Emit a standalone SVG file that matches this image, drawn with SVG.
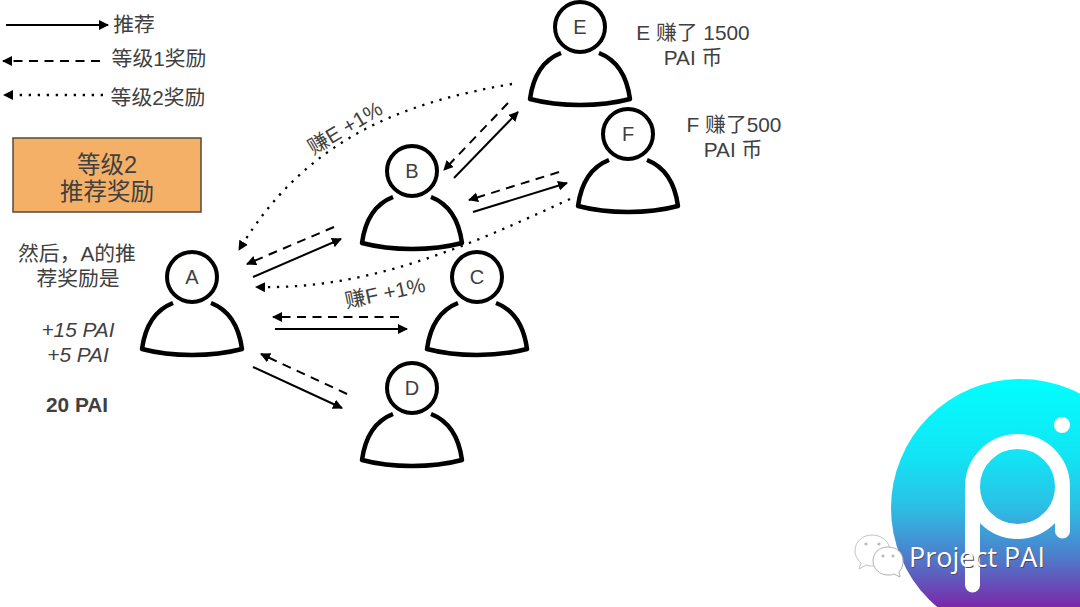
<svg xmlns="http://www.w3.org/2000/svg" width="1080" height="607" viewBox="0 0 1080 607">
<style>
text{font-family:"Liberation Sans","Noto Sans CJK SC",sans-serif;fill:#404040;text-anchor:middle}
.l{font-size:23.5px}
.s{font-size:20.8px}
.h{fill:#fff;stroke:#000;stroke-width:4}
.b{fill:none;stroke:#000;stroke-width:4.5;stroke-linejoin:round;stroke-linecap:butt}
.n{font-size:20px}
.c{fill:none;stroke:#000;stroke-width:2}
.sol{marker-end:url(#a)}
.das{stroke-dasharray:9 6.5;marker-end:url(#a)}
.dot{stroke-width:2.3;stroke-dasharray:2.3 6.7;marker-end:url(#a)}
.w{fill:none;stroke:#fff;stroke-linecap:round}
</style>
<defs>
<marker id="a" markerUnits="userSpaceOnUse" markerWidth="12" markerHeight="12" refX="9" refY="5" orient="auto"><path d="M0 0L10 5L0 10Z" fill="#000"/></marker>
<g id="p">
<circle class="h" r="25"/>
<path class="b" d="M-19 26C-37 33-47 50-50 72C-20 80 20 80 50 72C47 50 37 33 19 26"/>
</g>
<linearGradient id="g" x1="0" y1="0" x2="0" y2="1"><stop offset="0" stop-color="#00ffff"/><stop offset="0.3" stop-color="#12e4f4"/><stop offset="0.5" stop-color="#2cbee4"/><stop offset="0.68" stop-color="#4c80cc"/><stop offset="0.88" stop-color="#7a2aaa"/></linearGradient>
</defs>
<g id="logo">
<circle cx="1020" cy="508" r="129" fill="url(#g)"/>
<circle class="w" cx="1017.5" cy="486.5" r="45" stroke-width="15"/>
<path class="w" stroke-width="15" d="M972.5 487V585M1062.5 487V531"/>
<circle cx="1062" cy="425" r="8" fill="#fff"/>
</g>
<g id="connectors">
<path class="c sol" d="M6 25H108"/>
<path class="c das" d="M100 61H3"/>
<path class="c dot" d="M103 95H4"/>
<path class="c sol" d="M253 277L341 239"/>
<path class="c das" d="M334 227L247 264"/>
<path class="c sol" d="M454 178L518 112"/>
<path class="c das" d="M508 103L444 170"/>
<path class="c sol" d="M473 212L567 183"/>
<path class="c das" d="M559 172L469 200"/>
<path class="c das" d="M399 317H273"/>
<path class="c sol" d="M275 329H407"/>
<path class="c sol" d="M253 367L342 408"/>
<path class="c das" d="M347 394L261 354"/>
<path class="c dot" d="M512 84C400 103 305 140 239 250"/>
<path class="c dot" d="M570 199C470 245 370 290 256 287"/>
</g>
<g id="legend">
<text class="s" x="134" y="32">推荐</text>
<text class="s" x="159" y="66">等级1奖励</text>
<text class="s" x="158" y="105">等级2奖励</text>
</g>
<g id="title">
<rect x="13" y="138" width="188" height="74" fill="#f4b066" stroke="#54483c" stroke-width="1.5"/>
<text class="l" x="107" y="173">等级2</text>
<text class="l" x="107" y="200">推荐奖励</text>
</g>
<g id="A"><use href="#p" x="192" y="277"/><text class="n" x="192" y="284">A</text></g>
<g id="B"><use href="#p" x="412" y="171"/><text class="n" x="412" y="178">B</text></g>
<g id="C"><use href="#p" x="477" y="277"/><text class="n" x="477" y="284">C</text></g>
<g id="D"><use href="#p" x="412" y="388"/><text class="n" x="412" y="395">D</text></g>
<g id="E"><use href="#p" x="580" y="27"/><text class="n" x="580" y="34">E</text></g>
<g id="F"><use href="#p" x="628" y="134"/><text class="n" x="628" y="141">F</text></g>
<g id="notes">
<text class="s" x="693" y="40">E 赚了 1500</text>
<text class="s" x="693" y="65">PAI 币</text>
<text class="s" x="734" y="132">F 赚了500</text>
<text class="s" x="733" y="157">PAI 币</text>
<text class="s" x="345" y="135" transform="rotate(-31 345 128)">赚E +1%</text>
<text class="s" x="385" y="300" transform="rotate(-12 385 293)">赚F +1%</text>
<text class="s" x="77" y="261">然后，A的推</text>
<text class="s" x="78" y="286">荐奖励是</text>
<text class="s" x="78" y="337" font-style="italic">+15 PAI</text>
<text class="s" x="78" y="362" font-style="italic">+5 PAI</text>
<text class="s" x="77" y="412" font-weight="bold">20 PAI</text>
</g>
<g id="watermark">
<path d="M872 535C862 535 855 542 855 551C855 556 858 560 861 563L859 569L866 565C869 566 871 566 874 566C884 566 890 559 890 551C890 542 882 535 872 535Z" fill="#fff" stroke="#c4c4c4"/>
<path d="M888 547C879 547 873 553 873 561C873 569 880 575 888 575C890 575 892 575 894 574L900 577L899 572C902 569 903 565 903 561C903 553 897 547 888 547Z" fill="#fff" stroke="#b0b0b0"/>
<circle cx="866" cy="544" r="1.6" fill="#bbb"/><circle cx="879" cy="544" r="1.6" fill="#bbb"/><circle cx="883" cy="556" r="1.6" fill="#bbb"/><circle cx="893" cy="556" r="1.6" fill="#bbb"/>
<text x="977" y="567" font-size="27" style="font-family:'Open Sans',sans-serif;fill:#4a4a60" transform="translate(0.8 0.8)">Project PAI</text>
<text x="977" y="567" font-size="27" style="font-family:'Open Sans',sans-serif;fill:#fff">Project PAI</text>
</g>
</svg>
